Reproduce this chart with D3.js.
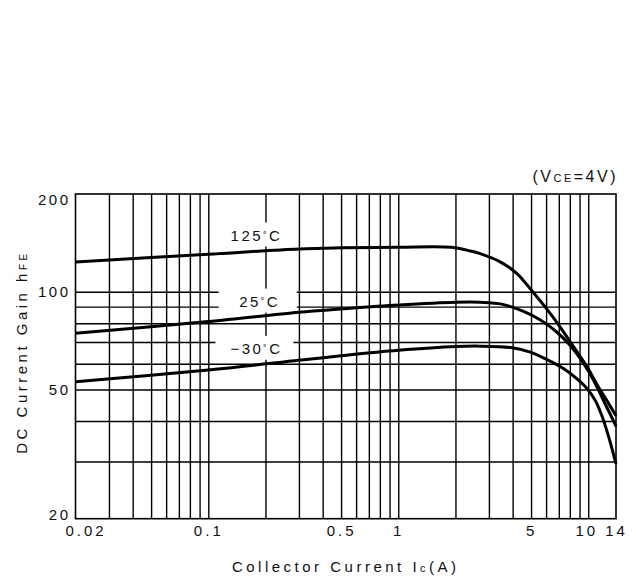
<!DOCTYPE html>
<meta charset="utf-8">
<script src="https://d3js.org/d3.v7.min.js"></script>
<style>
  body { margin: 0; background: #fff; }
  text { font-family: "Liberation Sans", Arial, sans-serif; fill: #111; }
</style>
<div id="chart"></div>
<script>
  // values
  var current125 = [0.02, 0.1, 0.3, 0.5, 1.0, 1.9, 2.4, 2.7, 3.4, 4.2, 5.1, 6.0, 7.1, 8.4, 9.8, 11.3, 12.8, 14]
  var gain125    = [123.5, 130.5, 135.5, 136.5, 137, 137, 133.5, 131, 124, 114, 100, 89, 78, 67.5, 59, 51, 45.3, 41.5]

  var current25 = [0.02, 0.1, 0.3, 0.5, 1.0, 2.0, 2.7, 3.5, 4.6, 5.6, 6.8, 8.0, 9.45, 10.65, 12.0, 13.5, 14]
  var gain25    = [74.5, 81, 86.5, 88.5, 91, 92.8, 92.8, 91.6, 86.8, 81.8, 75.3, 68.5, 60.2, 53.5, 46.4, 40.3, 38.5]

  var currentM30 = [0.02, 0.1, 0.3, 0.5, 1.0, 2.0, 2.7, 3.9, 4.9, 6.0, 7.4, 8.7, 9.8, 10.9, 11.8, 12.8, 13.5, 14]
  var gainM30    = [52.8, 57.4, 61.5, 63.5, 66, 67.8, 68, 67.3, 65.3, 62, 58, 54, 50.5, 46.2, 41.5, 35.8, 32, 29.5]

  var temps = ["125", "25", "\u221230"]
  var labelCurrent = [0.175, 0.182, 0.175]
  var labelGain = [150, 93.9, 67.2]

  var xGrid = [0.03, 0.04, 0.05, 0.06, 0.07, 0.08, 0.09, 0.1, 0.2, 0.3, 0.4, 0.5, 0.6, 0.7, 0.8, 0.9, 1, 2, 3, 4, 5, 6, 7, 8, 9, 10]
  var yGrid = [30, 40, 50, 60, 70, 80, 90, 100]
  var xTicks = [0.02, 0.1, 0.5, 1, 5, 10, 14]
  var yTicks = [20, 50, 100, 200]

  var width = 636
  var height = 579
  var plotLeft = 75.5, plotRight = 616, plotTop = 194, plotBottom = 518.7

  var svg = d3.select("#chart")
    .append("svg")
      .attr("width", width)
      .attr("height", height)

  var x = d3.scaleLog().domain([0.02, 14]).range([plotLeft, plotRight])
  var y = d3.scaleLog().domain([20, 200]).range([plotBottom, plotTop])

  // grid
  svg.append("g")
    .attr("transform", "translate(0," + plotBottom + ")")
    .call(d3.axisBottom(x).tickValues(xGrid).tickSize(-(plotBottom - plotTop)).tickFormat(""))
    .call(function(g){ g.select(".domain").remove() })
    .selectAll("line").attr("stroke", "#000").attr("stroke-width", 1.4)

  svg.append("g")
    .attr("transform", "translate(" + plotLeft + ",0)")
    .call(d3.axisLeft(y).tickValues(yGrid).tickSize(-(plotRight - plotLeft)).tickFormat(""))
    .call(function(g){ g.select(".domain").remove() })
    .selectAll("line").attr("stroke", "#000").attr("stroke-width", 1.4)

  svg.append("rect")
    .attr("x", plotLeft).attr("y", plotTop)
    .attr("width", plotRight - plotLeft).attr("height", plotBottom - plotTop)
    .attr("fill", "none").attr("stroke", "#000").attr("stroke-width", 1.6)

  // tick labels
  var xAxis = svg.append("g")
    .attr("transform", "translate(0," + plotBottom + ")")
    .call(d3.axisBottom(x).tickValues(xTicks).tickSize(0).tickPadding(8).tickFormat(function(d){ return String(d) }))
  xAxis.select(".domain").remove()
  xAxis.selectAll("text")
    .style("font-size", "15px").style("letter-spacing", "3px").attr("fill", "#111")
    .attr("dy", "0.6em")
    .attr("dx", function(d){ return d == 0.02 ? 10 : (d == 10 ? -2 : 0) })

  var yAxis = svg.append("g")
    .attr("transform", "translate(" + plotLeft + ",0)")
    .call(d3.axisLeft(y).tickValues(yTicks).tickSize(0).tickPadding(5).tickFormat(function(d){ return String(d) }))
  yAxis.select(".domain").remove()
  yAxis.selectAll("text")
    .style("font-size", "15px").style("letter-spacing", "2.5px").attr("fill", "#111")
    .attr("dy", function(d){ return d == 200 ? "0.7em" : (d == 20 ? "0.05em" : "0.35em") })

  // curve labels on white boxes
  var labels = svg.append("g").selectAll("g")
    .data(temps)
    .enter()
    .append("g")
      .attr("transform", function(d, i){ return "translate(" + x(labelCurrent[i]) + "," + y(labelGain[i]) + ")" })
  labels.append("rect")
    .attr("x", -39).attr("y", -12).attr("width", 78).attr("height", 24)
    .attr("fill", "#fff")
  var lt = labels.append("text")
    .attr("text-anchor", "middle")
    .attr("x", 2)
    .attr("y", 6)
    .style("font-size", "15px").style("letter-spacing", "2.5px")
  lt.append("tspan").text(function(d){ return d })
  lt.append("tspan").attr("dy", -1).style("font-size", "10px").text("\u02DA")
  lt.append("tspan").attr("dy", 1).text("C")

  // curves
  var line = d3.line()
    .x(function(d){ return x(d[0]) })
    .y(function(d){ return y(d[1]) })
    .curve(d3.curveCatmullRom.alpha(0.5))

  var series = [
    d3.zip(current125, gain125),
    d3.zip(current25, gain25),
    d3.zip(currentM30, gainM30)
  ]

  svg.append("g").selectAll("path")
    .data(series)
    .enter()
    .append("path")
      .attr("d", line)
      .attr("fill", "none")
      .attr("stroke", "#000")
      .attr("stroke-width", 3)
      .attr("stroke-linejoin", "round")

  // condition note
  var cond = svg.append("text")
    .attr("x", plotRight + 2).attr("y", 182)
    .attr("text-anchor", "end")
    .style("font-size", "16px").style("letter-spacing", "2.5px")
  cond.append("tspan").text("(V")
  cond.append("tspan").style("font-size", "11px").text("CE")
  cond.append("tspan").text("=4V)")

  // axis titles
  var xt = svg.append("text")
    .attr("x", (plotLeft + plotRight) / 2).attr("y", 572)
    .attr("text-anchor", "middle")
    .style("font-size", "15px").style("letter-spacing", "3.5px")
  xt.append("tspan").text("Collector Current I")
  xt.append("tspan").style("font-size", "11px").text("c")
  xt.append("tspan").text("(A)")

  var yt = svg.append("text")
    .attr("transform", "translate(27,352) rotate(-90)")
    .attr("text-anchor", "middle")
    .style("font-size", "15px").style("letter-spacing", "3.5px")
  yt.append("tspan").text("DC Current Gain h")
  yt.append("tspan").style("font-size", "10px").text("FE")
</script>
